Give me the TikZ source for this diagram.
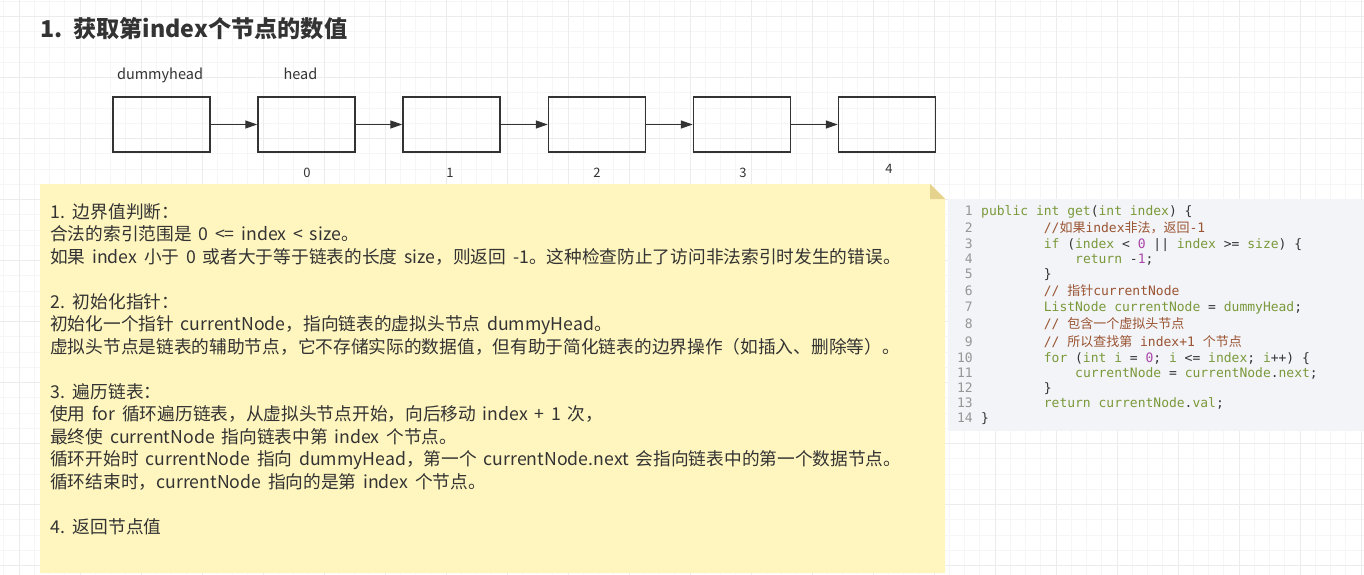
\documentclass[tikz,border=0pt]{standalone}
\usepackage{fontspec}
\usepackage{tikz}
\usetikzlibrary{arrows.meta,positioning}
\newfontfamily\cjk{Noto Sans CJK SC}
\newfontfamily\cjkwide{Noto Sans CJK SC}[WordSpace=1.7]
\newfontfamily\codefont{DejaVu Sans Mono}
\definecolor{gridminor}{RGB}{246,246,246}
\definecolor{gridmajor}{RGB}{236,236,236}
\definecolor{inkgray}{RGB}{51,51,51}
\definecolor{notefill}{RGB}{255,246,191}
\definecolor{notefold}{RGB}{229,210,140}
\definecolor{codebg}{RGB}{243,244,248}
\definecolor{codegreen}{RGB}{122,153,58}
\definecolor{codebrown}{RGB}{154,84,50}
\definecolor{codenum}{RGB}{170,70,170}
\definecolor{codegray}{RGB}{150,150,150}
\newcommand{\ckw}[1]{\textcolor{codegreen}{#1}}
\newcommand{\ccm}[1]{\textcolor{codebrown}{#1}}
\newcommand{\cnm}[1]{\textcolor{codenum}{#1}}
\newcommand{\zh}[1]{{\cjk #1}}

\begin{document}
\begin{tikzpicture}[x=1pt,y=-1pt,
  listbox/.style={draw=inkgray,line width=1.5pt,minimum width=97pt,minimum height=55pt,inner sep=0pt},
  link/.style={-{Triangle[length=12pt,width=8pt]},line width=1.3pt,inkgray},
  title/.style={anchor=base west,inner sep=0pt,text=inkgray,font=\cjk\bfseries\fontsize{23.2}{27}\selectfont},
  nodelabel/.style={anchor=base,inner sep=0pt,text=inkgray,font=\cjk\fontsize{14.5}{18}\selectfont},
  idxlabel/.style={anchor=base,inner sep=0pt,text=inkgray,font=\cjk\fontsize{13}{16}\selectfont},
  noteline/.style={anchor=base west,inner sep=0pt,text=inkgray,font=\cjkwide\fontsize{17.7}{21}\selectfont},
  codeline/.style={anchor=base west,inner sep=0pt,text=inkgray,font=\codefont\fontsize{13}{15}\selectfont},
  lineno/.style={anchor=base east,inner sep=0pt,text=codegray,font=\codefont\fontsize{13}{15}\selectfont}]
\useasboundingbox (0,0) rectangle (1364,575);
\fill[white] (0,0) rectangle (1364,575);
% grid paper
\foreach \i in {0,...,89}{\draw[gridminor,line width=1pt] (3.75+15.25*\i,0) -- (3.75+15.25*\i,575);}
\foreach \i in {0,...,37}{\draw[gridminor,line width=1pt] (0,1.45+15.25*\i) -- (1364,1.45+15.25*\i);}
\foreach \i in {0,...,22}{\draw[gridmajor,line width=1pt] (19+61*\i,0) -- (19+61*\i,575);}
\foreach \i in {0,...,9}{\draw[gridmajor,line width=1pt] (0,16.7+61*\i) -- (1364,16.7+61*\i);}

\node[title] (title) at (40,38) {1. 获取第index个节点的数值};

% linked list
\foreach \x [count=\i from 0] in {161.5,306.5,451.5,597,742,887}{
  \node[listbox] (n\i) at (\x,124.5) {};}
\foreach \i [evaluate=\i as \j using int(\i+1)] in {0,...,4}{
  \draw[link] (n\i) -- (n\j);}
\node[nodelabel] (lbldummy) at (160,80) {dummyhead};
\node[nodelabel] (lblhead) at (300.5,80) {head};
\foreach \x/\yy/\t in {307/177/0,450/177/1,597/177/2,743/177/3,889/173/4}{
  \node[idxlabel] (idx\t) at (\x,\yy) {\t};}

% note
\fill[notefill] (40,184) -- (930,184) -- (945,199) -- (945,573) -- (40,573) -- cycle;
\fill[notefold] (930,184) -- (930,199) -- (945,199) -- cycle;
\foreach \yy/\t [count=\i] in {
  218/{1. 边界值判断：},
  240.5/{合法的索引范围是 0 <= index < size。},
  263/{如果 index 小于 0 或者大于等于链表的长度 size，则返回 -1。这种检查防止了访问非法索引时发生的错误。},
  308/{2. 初始化指针：},
  330.5/{初始化一个指针 currentNode，指向链表的虚拟头节点 dummyHead。},
  353/{虚拟头节点是链表的辅助节点，它不存储实际的数据值，但有助于简化链表的边界操作（如插入、删除等）。},
  398/{3. 遍历链表：},
  420.5/{使用 for 循环遍历链表，从虚拟头节点开始，向后移动 index + 1 次，},
  443/{最终使 currentNode 指向链表中第 index 个节点。},
  465.5/{循环开始时 currentNode 指向 dummyHead，第一个 currentNode.next 会指向链表中的第一个数据节点。},
  488/{循环结束时，currentNode 指向的是第 index 个节点。},
  533/{4. 返回节点值}}{
  \node[noteline] (t\i) at (50,\yy) {\t};}

% code block
\fill[codebg] (948,199) rectangle (1364,431);
\foreach \yy/\ind/\t [count=\i] in {
  215.7/0/{\ckw{public} \ckw{int} \ckw{get}(\ckw{int} \ckw{index}) \{},
  232.3/8/{\ccm{//\zh{如果}index\zh{非法，返回}-1}},
  248.3/8/{\ckw{if} (\ckw{index} < \cnm{0} || \ckw{index} >= \ckw{size}) \{},
  263.3/12/{\ckw{return} -\cnm{1};},
  278/8/{\}},
  295.7/8/{\ccm{// \zh{指针}currentNode}},
  311.7/8/{\ckw{ListNode} \ckw{currentNode} = \ckw{dummyHead};},
  328.3/8/{\ccm{// \zh{包含一个虚拟头节点}}},
  346.7/8/{\ccm{// \zh{所以查找第} index+1 \zh{个节点}}},
  362.3/8/{\ckw{for} (\ckw{int} \ckw{i} = \cnm{0}; \ckw{i} <= \ckw{index}; \ckw{i}++) \{},
  377.7/12/{\ckw{currentNode} = \ckw{currentNode}.\ckw{next};},
  392.3/8/{\}},
  407.7/8/{\ckw{return} \ckw{currentNode}.\ckw{val};},
  422.7/0/{\}}}{
  \node[codeline] (c\i) at (981+7.83*\ind,\yy) {\t};
  \node[lineno] (ln\i) at (973,\yy) {\i};}
\end{tikzpicture}
\end{document}
